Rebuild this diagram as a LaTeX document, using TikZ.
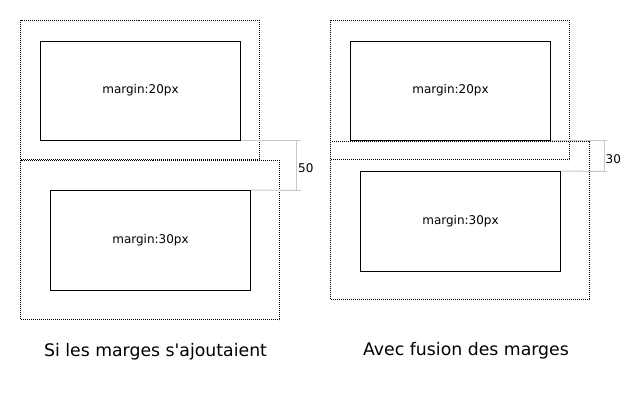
\documentclass[tikz,border=0pt]{standalone}
\usepackage{fontspec}
\setmainfont[Ligatures=TeXOff]{DejaVu Sans}
\definecolor{dimgrey}{RGB}{200,200,200}
\begin{document}
\begin{tikzpicture}[x=1pt,y=-1pt,
  dotbox/.style={draw, line width=1pt, dash pattern=on 1pt off 1pt, inner sep=0pt},
  inbox/.style={draw, line width=1pt, inner sep=0pt, minimum width=200pt, font=\fontsize{12}{14}\selectfont},
  dimline/.style={draw=dimgrey, line width=1pt},
  dimlabel/.style={anchor=west, inner sep=0pt, font=\fontsize{12}{14}\selectfont},
  title/.style={inner sep=0pt, font=\fontsize{17.3}{20}\selectfont}]
\useasboundingbox (0,0) rectangle (640,400);
% left
\node[dotbox, minimum width=239pt, minimum height=139pt] (lo1) at (140,90) {};
\node[inbox, minimum height=99pt] (la) at (140.5,90.5) {margin:20px};
\node[dotbox, minimum width=259pt, minimum height=159pt] (lo2) at (150,240) {};
\node[inbox, minimum height=100pt] (lb) at (150.5,240.5) {margin:30px};
\coordinate (l1) at (301,140.5);
\coordinate (l2) at (301,190.5);
\coordinate (lv1) at (296.5,140.5);
\coordinate (lv2) at (296.5,190.5);
\draw[dimline] (la.south east) -- (l1);
\draw[dimline] (lb.north east) -- (l2);
\draw[dimline] (lv1) -- (lv2);
\node[dimlabel] (l50) at (298,168) {50};
\node[title] (lt) at (155.5,352) {Si les marges s'ajoutaient};
% right
\node[dotbox, minimum width=239pt, minimum height=139pt] (ro1) at (450,90) {};
\node[inbox, minimum height=99pt] (ra) at (450.5,90.5) {margin:20px};
\node[dotbox, minimum width=259pt, minimum height=158pt] (ro2) at (460,220.5) {};
\node[inbox, minimum height=100pt] (rb) at (460.5,221.5) {margin:30px};
\coordinate (r1) at (607,140.5);
\coordinate (r2) at (607,171.5);
\coordinate (rv1) at (604.5,140.5);
\coordinate (rv2) at (604.5,171.5);
\draw[dimline] (ra.south east) -- (r1);
\draw[dimline] (rb.north east) -- (r2);
\draw[dimline] (rv1) -- (rv2);
\node[dimlabel] (r30) at (605.5,159) {30};
\node[title] (rt) at (466,351) {Avec fusion des marges};
\end{tikzpicture}
\end{document}
